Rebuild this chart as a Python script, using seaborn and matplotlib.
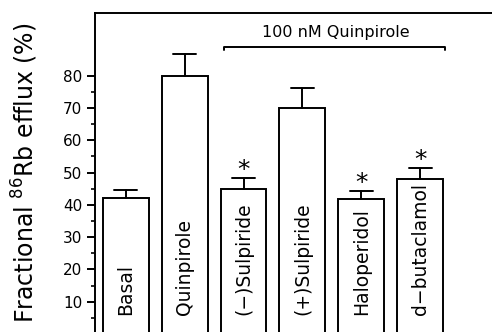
import matplotlib
matplotlib.use("Agg")
import matplotlib.pyplot as plt
import seaborn as sns
import pandas as pd
import numpy as np
from matplotlib.ticker import FixedLocator

sns.set_theme(style="white")
plt.rcParams['font.family'] = ['DejaVu Sans']

categories = ["Basal", "Quinpirole", "(\u2212)Sulpiride", "(+)Sulpiride", "Haloperidol", "d\u2212butaclamol"]
values = [42, 80, 45, 70, 41.7, 48]
errors = [2.5, 6.6, 3.3, 6.3, 2.6, 3.5]
significant = [False, False, True, False, True, True]
bracket_label = "100 nM Quinpirole"
y_ticks = [10, 20, 30, 40, 50, 60, 70, 80]
y_minor = [5, 15, 25, 35, 45, 55, 65, 75]

df = pd.DataFrame({"treatment": categories, "efflux": values})

fig = plt.figure(figsize=(4.92, 3.32), dpi=100)
ax = fig.add_axes([95/492, 0.0, 1 - 95/492 + 0.01, 1 - 13/332])

sns.barplot(data=df, x="treatment", y="efflux", ax=ax, color="white",
            edgecolor="black", linewidth=1.4, width=0.78, errorbar=None)

xs = np.arange(len(categories))
for x, v, e, s, c in zip(xs, values, errors, significant, categories):
    ax.plot([x, x], [v, v + e], color="black", lw=1.4)
    ax.plot([x - 0.2, x + 0.2], [v + e, v + e], color="black", lw=1.4)
    if s:
        ax.text(x, v + e + 0.3, "*", ha="center", va="baseline", fontsize=18, color="black")
    ax.text(x, 6.0, c, rotation=90, ha="center", va="bottom", fontsize=13.5, color="black")

# bracket over the treatment groups
ax.plot([1.67, 1.67, 5.42, 5.42], [87.8, 88.9, 88.9, 87.8], color="black", lw=1.4)
ax.text(3.57, 93.5, bracket_label, ha="center", va="center", fontsize=11.5, color="black")

ax.set_xlim(-0.52, 6.3)
ax.set_ylim(0.6, 99.4)
ax.yaxis.set_major_locator(FixedLocator(y_ticks))
ax.yaxis.set_minor_locator(FixedLocator(y_minor))
ax.tick_params(axis="y", which="major", left=True, length=6, width=1.4, labelsize=11, pad=3, colors="black")
ax.tick_params(axis="y", which="minor", left=True, length=3, width=1.4)
ax.set_xticks([])
ax.set_xlabel("")
ax.set_ylabel("Fractional $^{86}$Rb efflux (%)", fontsize=17, color="black")
ax.yaxis.set_label_coords(-0.137, 0.5)
for sp in ["left", "top"]:
    ax.spines[sp].set_linewidth(1.4)
    ax.spines[sp].set_color("black")
ax.spines["right"].set_visible(False)
ax.spines["bottom"].set_visible(False)

fig.savefig("out.png", dpi=100)
